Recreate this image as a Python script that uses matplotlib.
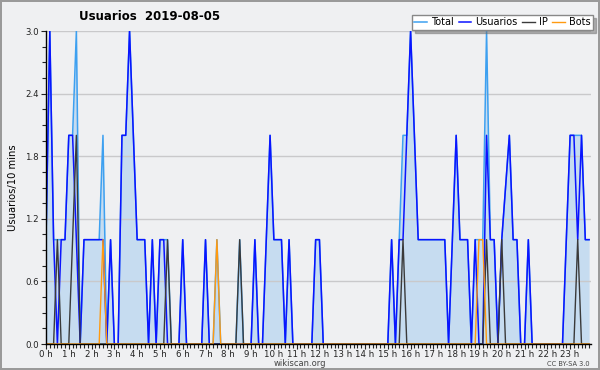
import numpy as np
import matplotlib.pyplot as plt
from matplotlib.ticker import MultipleLocator, FixedLocator

# one value per 10 minutes, 0 h .. 23 h 50
total = [1, 3, 1, 1, 1, 1, 2, 2, 3, 0, 1, 1,
         1, 1, 1, 2, 0, 1, 0, 0, 2, 2, 3, 2,
         1, 1, 1, 0, 1, 0, 1, 1, 1, 0, 0, 0,
         1, 0, 0, 0, 0, 0, 1, 0, 0, 1, 0, 0,
         0, 0, 0, 1, 0, 0, 0, 1, 0, 0, 1, 2,
         1, 1, 1, 0, 1, 0, 0, 0, 0, 0, 0, 1,
         1, 0, 0, 0, 0, 0, 0, 0, 0, 0, 0, 0,
         0, 0, 0, 0, 0, 0, 0, 1, 0, 1, 2, 2,
         3, 2, 1, 1, 1, 1, 1, 1, 1, 1, 0, 1,
         2, 1, 1, 1, 0, 1, 1, 1, 3, 1, 1, 0,
         1, 1.5, 2, 1, 1, 0, 0, 1, 0, 0, 0, 0,
         0, 0, 0, 0, 0, 1, 2, 2, 2, 2, 1, 1]
usuarios = [1, 3, 1, 0, 1, 1, 2, 2, 1, 0, 1, 1,
            1, 1, 1, 1, 0, 1, 0, 0, 2, 2, 3, 2,
            1, 1, 1, 0, 1, 0, 1, 1, 0, 0, 0, 0,
            1, 0, 0, 0, 0, 0, 1, 0, 0, 0, 0, 0,
            0, 0, 0, 0, 0, 0, 0, 1, 0, 0, 1, 2,
            1, 1, 1, 0, 1, 0, 0, 0, 0, 0, 0, 1,
            1, 0, 0, 0, 0, 0, 0, 0, 0, 0, 0, 0,
            0, 0, 0, 0, 0, 0, 0, 1, 0, 1, 1, 2,
            3, 2, 1, 1, 1, 1, 1, 1, 1, 1, 0, 1,
            2, 1, 1, 1, 0, 1, 0, 0, 2, 1, 1, 0,
            1, 1.5, 2, 1, 1, 0, 0, 1, 0, 0, 0, 0,
            0, 0, 0, 0, 0, 1, 2, 2, 1, 2, 1, 1]
ip = [0] * 144
for i, v in [(3, 1), (7, 1), (8, 2), (32, 1), (51, 1), (94, 1),
             (116, 1), (120, 1), (140, 1)]:
    ip[i] = v
bots = [0] * 144
for i, v in [(15, 1), (45, 1), (114, 1), (115, 1)]:
    bots[i] = v

hour_labels = ["%d h" % h for h in range(24)]

bg = '#eff0f2'
fig = plt.figure(figsize=(6, 3.7), dpi=100, facecolor=bg,
                 edgecolor='#9a9a9a', linewidth=1.5)
ax = fig.add_axes([46 / 600, 26 / 370, 545 / 600, 313 / 370])
ax.set_facecolor(bg)

x = np.arange(144)
ax.fill_between(x, total, 0, color='#c6dcf0', lw=0, zorder=1)
ax.plot(x, total, color='#3da0f0', lw=1.1, label='Total', zorder=3)
ax.plot(x, usuarios, color='#0a14ff', lw=1.1, label='Usuarios', zorder=4)
ax.plot(x, ip, color='#3a3a3a', lw=1.0, label='IP', zorder=5)
ax.plot(x, bots, color='#ff9a10', lw=1.0, label='Bots', zorder=5)

ax.set_xlim(0, 143.5)
ax.set_ylim(0, 3.0)
ax.xaxis.set_major_locator(FixedLocator(np.arange(24) * 6))
ax.set_xticklabels(hour_labels)
ax.xaxis.set_minor_locator(MultipleLocator(1))
ax.yaxis.set_major_locator(MultipleLocator(0.6))
ax.yaxis.set_minor_locator(MultipleLocator(0.15))
ax.yaxis.set_major_formatter(plt.FormatStrFormatter('%.1f'))
ax.tick_params(which='both', labelsize=6.2, colors='#222')
ax.tick_params(which='major', length=3.5, width=0.8)
ax.tick_params(which='minor', length=3, width=0.8)
ax.tick_params(axis='x', pad=0.5)
ax.tick_params(axis='y', pad=1.5)
ax.grid(axis='y', color='#c9c9cb', lw=1, zorder=0)
for s in ['top', 'right']:
    ax.spines[s].set_visible(False)
for s in ['left', 'bottom']:
    ax.spines[s].set_linewidth(1)
    ax.spines[s].set_zorder(6)

ax.set_ylabel('Usuarios/10 mins', fontsize=7.2, labelpad=5)
fig.text(150 / 600, 1 - 17 / 370, 'Usuarios  2019-08-05', fontsize=8.5,
         fontweight='bold', ha='center', va='center')
fig.text(300 / 600, 1 - 363.5 / 370, 'wikiscan.org', fontsize=6,
         color='#444', ha='center', va='center')
fig.text(590 / 600, 1 - 363.5 / 370, 'CC BY-SA 3.0', fontsize=4.8,
         color='#444', ha='right', va='center')

leg = fig.legend(loc='upper right', bbox_to_anchor=(593 / 600, 1 - 15 / 370),
                 ncol=4, fontsize=7, frameon=True, fancybox=False,
                 shadow={'color': '#707070'}, handlelength=1.3,
                 handletextpad=0.4, columnspacing=0.5, borderpad=0.25,
                 borderaxespad=0)
leg.get_frame().set_edgecolor('#888')
leg.get_frame().set_linewidth(1)

fig.savefig('out.png', dpi=100, facecolor=bg, edgecolor=fig.get_edgecolor())
